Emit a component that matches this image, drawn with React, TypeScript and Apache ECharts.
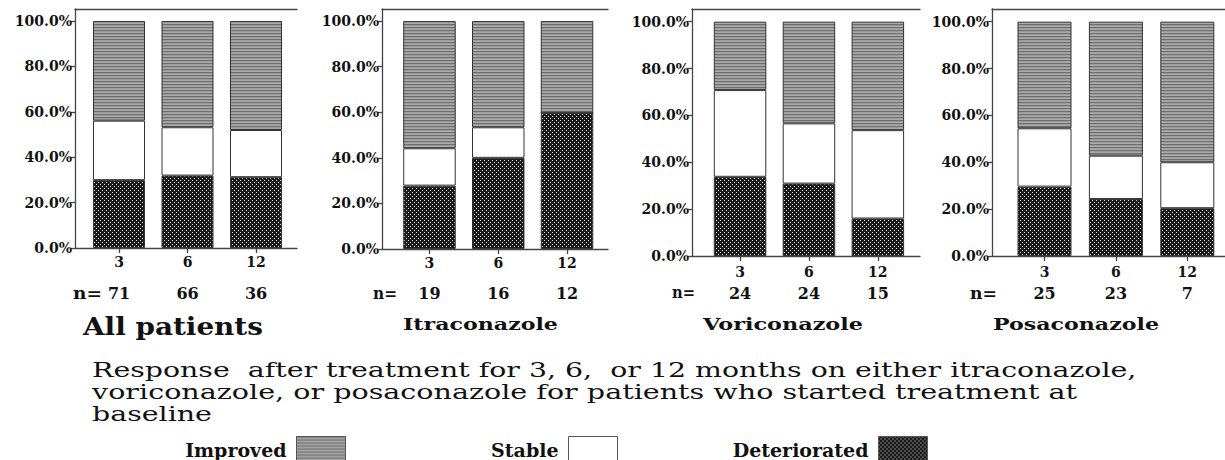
import React, { useEffect, useRef } from "react";
import * as echarts from "echarts";

// ---------- data ----------
const months = ["3", "6", "12"];
const panelTitles = ["All patients", "Itraconazole", "Voriconazole", "Posaconazole"];
const nCounts = [
  [71, 66, 36],
  [19, 16, 12],
  [24, 24, 15],
  [25, 23, 7],
];
const deteriorated = [
  [29.9, 31.9, 31.2],
  [27.8, 40.0, 59.8],
  [33.8, 30.9, 16.0],
  [29.6, 24.3, 20.4],
];
const stable = [
  [26.2, 21.3, 20.8],
  [16.4, 13.4, 0],
  [37.0, 25.7, 37.7],
  [24.9, 18.5, 19.6],
];
const improved = [
  [43.9, 46.8, 48.0],
  [55.8, 46.6, 40.2],
  [29.2, 43.4, 46.3],
  [45.5, 57.2, 60.0],
];
const yTicks = [0, 20, 40, 60, 80, 100];
const seriesNames = ["Improved", "Stable", "Deteriorated"];
const captionLines = [
  "Response  after treatment for 3, 6,  or 12 months on either itraconazole,",
  "voriconazole, or posaconazole for patients who started treatment at",
  "baseline",
];

// ---------- layout ----------
const panels = [
  { left: 75, width: 222, height: 239, barLeft: 84.75, barSpan: 205.5, yMax: 105.3, barWidth: 52, labelMargin: 7, nMargin: 37, nX: 73, nW: 29, titleX: 83, titleW: 180, titleSize: 25, titleY: 326 },
  { left: 382, width: 226, height: 240, barLeft: 395.1, barSpan: 206.3, yMax: 105.3, barWidth: 52.5, labelMargin: 7, nMargin: 36, nX: 373, nW: 24, titleX: 403, titleW: 155, titleSize: 17.5, titleY: 323.5 },
  { left: 692, width: 228, height: 247, barLeft: 705.6, barSpan: 206.7, yMax: 105.4, barWidth: 52.5, labelMargin: 8.5, nMargin: 29, nX: 672, nW: 23, titleX: 703, titleW: 160, titleSize: 17.5, titleY: 323.5 },
  { left: 992, width: 233, height: 247, barLeft: 1008.8, barSpan: 214.2, yMax: 105.4, barWidth: 54, labelMargin: 8.5, nMargin: 29, nX: 970, nW: 27, titleX: 993, titleW: 166, titleSize: 17.5, titleY: 323.5 },
];
const captionLayout = [
  { x: 92, y: 370, w: 1045 },
  { x: 92, y: 392.5, w: 986 },
  { x: 92, y: 414, w: 120 },
];
const legendLayout = [{ right: 1225 - 346 }, { right: 1225 - 618 }, { right: 1225 - 928 }];

const AXIS_COLOR = "#454545";
const LABEL_FONT = "DejaVu Serif";

function makeCanvas(w: number, h: number, draw: (ctx: CanvasRenderingContext2D) => void) {
  const c = document.createElement("canvas");
  c.width = w;
  c.height = h;
  const ctx = c.getContext("2d")!;
  draw(ctx);
  return c;
}

export default function App() {
  const ref = useRef<HTMLDivElement>(null);

  useEffect(() => {
    if (!ref.current) return;

    const improvedCanvas = makeCanvas(2, 3, (ctx) => {
      const rows = ["#6e6e6e", "#9c9c9c", "#aaaaaa"];
      rows.forEach((c, i) => {
        ctx.fillStyle = c;
        ctx.fillRect(0, i, 2, 1);
      });
    });
    const detCanvas = makeCanvas(4, 4, (ctx) => {
      ctx.fillStyle = "#1c1c1c";
      ctx.fillRect(0, 0, 4, 4);
      ctx.fillStyle = "#dcdcdc";
      ctx.fillRect(0, 0, 1, 1);
      ctx.fillRect(2, 2, 1, 1);
    });

    const fills: any = {
      Improved: { image: improvedCanvas, repeat: "repeat", imageWidth: 2, imageHeight: 3 },
      Stable: "#ffffff",
      Deteriorated: { image: detCanvas, repeat: "repeat", imageWidth: 4, imageHeight: 4 },
    };
    const valuesBy: any = { Improved: improved, Stable: stable, Deteriorated: deteriorated };

    const mctx = document.createElement("canvas").getContext("2d")!;
    const measure = (text: string, font: string) => {
      mctx.font = font;
      return mctx.measureText(text).width || 1;
    };
    const stretchedText = (text: string, x: number, y: number, w: number, size: number, bold: boolean) => {
      const font = `${bold ? "bold " : ""}${size}px ${LABEL_FONT}`;
      return {
        type: "text",
        x,
        y,
        scaleX: w / measure(text, font),
        silent: true,
        style: {
          text,
          fontFamily: LABEL_FONT,
          fontSize: size,
          fontWeight: bold ? "bold" : "normal",
          fill: "#111",
          align: "left",
          verticalAlign: "middle",
        },
      };
    };

    const grid: any[] = [];
    const xAxis: any[] = [];
    const yAxis: any[] = [];
    const series: any[] = [];
    const graphic: any[] = [];

    panels.forEach((p, pi) => {
      const frameGrid = pi * 2;
      const barGrid = pi * 2 + 1;
      grid.push({ left: p.left, top: 9, width: p.width, height: p.height });
      grid.push({ left: p.barLeft, top: 9, width: p.barSpan, height: p.height });

      // frame: bottom and top lines
      xAxis.push({
        type: "value",
        gridIndex: frameGrid,
        position: "bottom",
        min: 0,
        max: 1,
        axisLine: { show: true, onZero: false, lineStyle: { color: AXIS_COLOR, width: 1.3 } },
        axisTick: { show: false },
        axisLabel: { show: false },
        splitLine: { show: false },
      });
      xAxis.push({
        type: "value",
        gridIndex: frameGrid,
        position: "top",
        min: 0,
        max: 1,
        axisLine: { show: true, onZero: false, lineStyle: { color: AXIS_COLOR, width: 1.3 } },
        axisTick: { show: false },
        axisLabel: { show: false },
        splitLine: { show: false },
      });
      // month categories
      xAxis.push({
        type: "category",
        gridIndex: barGrid,
        position: "bottom",
        data: months,
        axisLine: { show: false },
        axisTick: { show: true, alignWithLabel: true, length: 5, lineStyle: { color: AXIS_COLOR, width: 1.3 } },
        axisLabel: {
          margin: p.labelMargin,
          fontFamily: LABEL_FONT,
          fontWeight: "bold",
          fontSize: 14,
          color: "#111",
        },
        splitLine: { show: false },
      });
      // n counts row
      xAxis.push({
        type: "category",
        gridIndex: barGrid,
        position: "bottom",
        data: nCounts[pi].map(String),
        axisLine: { show: false },
        axisTick: { show: false },
        axisLabel: {
          margin: p.nMargin,
          fontFamily: LABEL_FONT,
          fontWeight: "bold",
          fontSize: 16,
          color: "#111",
        },
        splitLine: { show: false },
      });
      yAxis.push({
        type: "value",
        gridIndex: frameGrid,
        position: "left",
        min: 0,
        max: p.yMax,
        axisLine: { show: true, onZero: false, lineStyle: { color: AXIS_COLOR, width: 1.3 } },
        axisTick: { show: true, customValues: yTicks, length: 5, lineStyle: { color: AXIS_COLOR, width: 1.3 } },
        axisLabel: {
          customValues: yTicks,
          formatter: (v: number) => v.toFixed(1) + "%",
          margin: 3,
          fontFamily: LABEL_FONT,
          fontWeight: "bold",
          fontSize: 14,
          color: "#111",
        },
        splitLine: { show: false },
      });
      yAxis.push({
        type: "value",
        gridIndex: barGrid,
        min: 0,
        max: p.yMax,
        show: false,
        splitLine: { show: false },
      });

      ["Deteriorated", "Stable", "Improved"].forEach((name) => {
        series.push({
          type: "bar",
          name,
          stack: "panel" + pi,
          xAxisIndex: pi * 4 + 2,
          yAxisIndex: pi * 2 + 1,
          barWidth: p.barWidth,
          silent: true,
          data: valuesBy[name][pi],
          itemStyle: { color: fills[name], borderColor: "#333", borderWidth: 1 },
        });
      });

      graphic.push(stretchedText(panelTitles[pi], p.titleX, p.titleY, p.titleW, p.titleSize, true));
      graphic.push(stretchedText("n=", p.nX, 293, p.nW, 16, true));
    });

    captionLines.forEach((line, i) => {
      const L = captionLayout[i];
      graphic.push(stretchedText(line, L.x, L.y, L.w, 19.5, false));
    });

    const legend = seriesNames.map((name, i) => ({
      data: [name],
      right: legendLayout[i].right,
      top: 436,
      orient: "horizontal",
      align: "right",
      icon: "rect",
      itemWidth: 49,
      itemHeight: 26,
      itemGap: 8,
      selectedMode: false,
      itemStyle: { borderColor: "#555", borderWidth: 1 },
      textStyle: { fontFamily: LABEL_FONT, fontWeight: "bold", fontSize: 19, color: "#111", padding: [0, 5, 0, 0] },
      padding: 0,
    }));

    const chart = echarts.init(ref.current, null, { renderer: "svg", width: 1225, height: 460 });
    chart.setOption({
      animation: false,
      backgroundColor: "#ffffff",
      grid,
      xAxis,
      yAxis,
      series,
      legend,
      graphic,
    });
    return () => chart.dispose();
  }, []);

  return (
    <div
      ref={ref}
      style={{ position: "absolute", left: 0, top: 0, width: 1225, height: 460, background: "#fff" }}
    />
  );
}
